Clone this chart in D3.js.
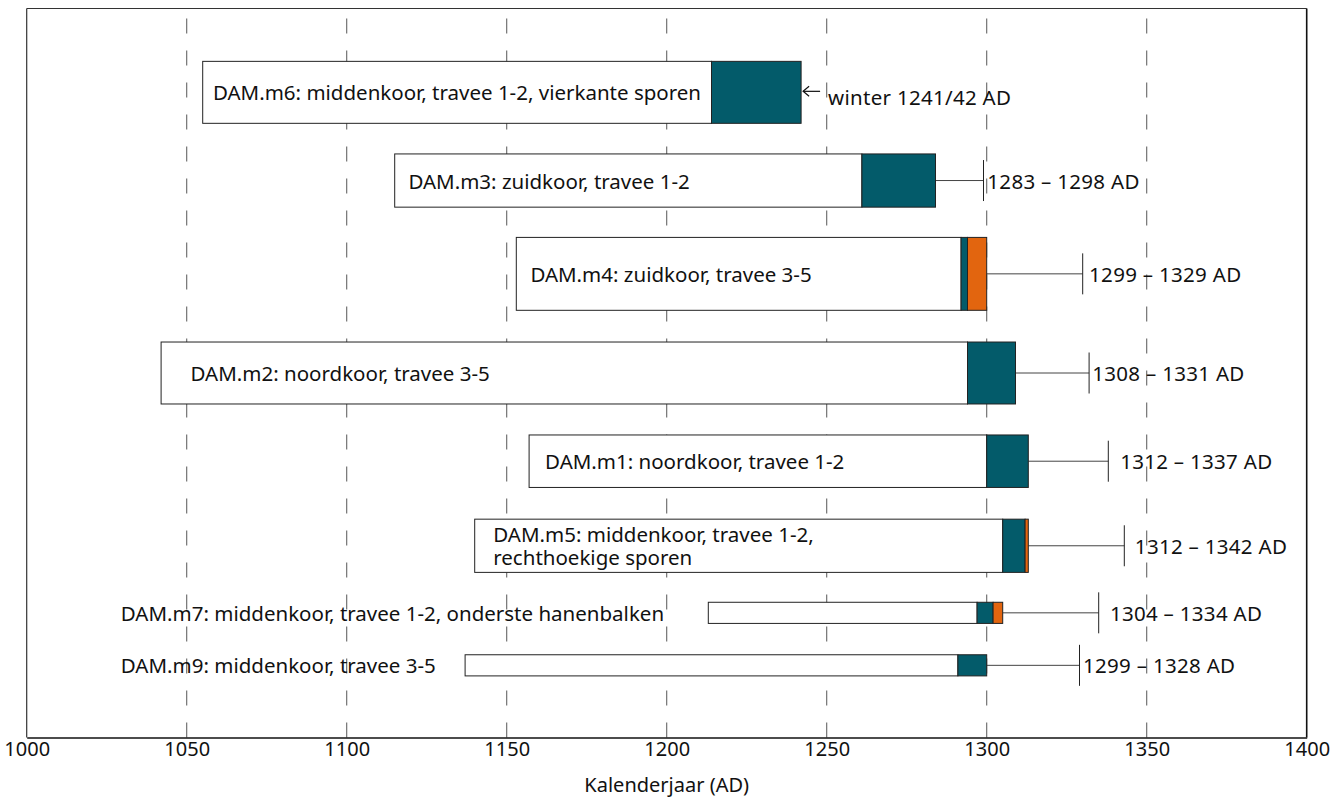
<!DOCTYPE html>
<html>
<head>
<meta charset="utf-8">
<script src="https://cdn.jsdelivr.net/npm/d3@7"></script>
<style>
  html, body { margin: 0; padding: 0; background: #fff; }
  svg { display: block; }
  text { font-family: "Noto Sans", Roboto, sans-serif; fill: #111; }
</style>
</head>
<body>
<svg id="chart" width="1337" height="799"></svg>
<script>
// ---- data ----
const labels = [
  "DAM.m6: middenkoor, travee 1-2, vierkante sporen",
  "DAM.m3: zuidkoor, travee 1-2",
  "DAM.m4: zuidkoor, travee 3-5",
  "DAM.m2: noordkoor, travee 3-5",
  "DAM.m1: noordkoor, travee 1-2",
  "DAM.m5: middenkoor, travee 1-2,\nrechthoekige sporen",
  "DAM.m7: middenkoor, travee 1-2, onderste hanenbalken",
  "DAM.m9: middenkoor, travee 3-5"
];
const firstRing   = [1055, 1115, 1153, 1042, 1157, 1140, 1213, 1137];
const heartEnd    = [1214, 1261, 1292, 1294, 1300, 1305, 1297, 1291];
const sapEnd      = [1242, 1284, 1294, 1309, 1313, 1312, 1302, 1300];
const barkEnd     = [null, null, 1300, null, null, 1313, 1305, null];
const upperBound  = [null, 1299, 1330, 1332, 1338, 1343, 1335, 1329];
const dateLabels  = ["winter 1241/42 AD", "1283 – 1298 AD", "1299 – 1329 AD", "1308 – 1331 AD",
                     "1312 – 1337 AD", "1312 – 1342 AD", "1304 – 1334 AD", "1299 – 1328 AD"];
const dateLabelX  = [1250.4, 1300.2, 1332.0, 1333.0, 1341.7, 1346.3, 1338.5, 1330.1];
const nameLabelX  = [1058.2, 1119.3, 1157.4, 1051.2, 1162.0, 1145.8, 1029.4, 1029.4];
const rowCenter   = [88.5, 76.4, 63.6, 50.0, 37.9, 26.3, 17.1, 9.9];
const rowHeight   = [8.5, 7.3, 10.0, 8.5, 7.2, 7.3, 2.9, 2.9];
const xTicks      = [1000, 1050, 1100, 1150, 1200, 1250, 1300, 1350, 1400];
const xTitle      = "Kalenderjaar (AD)";

const TEAL = "#035b6a", ORANGE = "#e2650f";

const svg = d3.select("#chart");
const m = {left: 26.7, right: 1337 - 1306.7, top: 8.5, bottom: 799 - 737.5};
const W = 1337, H = 799;
const x = d3.scaleLinear().domain([1000, 1400]).range([m.left, W - m.right]);
const y = d3.scaleLinear().domain([0, 100]).range([H - m.bottom, m.top]);

// grid lines
svg.append("g").selectAll("line").data(xTicks.slice(1, -1)).join("line")
  .attr("x1", d => x(d)).attr("x2", d => x(d))
  .attr("y1", y(0)).attr("y2", y(100))
  .attr("stroke", "#666").attr("stroke-width", 1.1)
  .attr("stroke-dasharray", "15,17");

const rows = labels.map((l, i) => ({
  label: l, a: firstRing[i], h: heartEnd[i], s: sapEnd[i], b: barkEnd[i], u: upperBound[i],
  dl: dateLabels[i], dlx: dateLabelX[i], nlx: nameLabelX[i], c: rowCenter[i], hh: rowHeight[i]
}));

const g = svg.append("g");
rows.forEach(r => {
  const yt = y(r.c + r.hh / 2), yb = y(r.c - r.hh / 2), yc = y(r.c);
  const end = r.b != null ? r.b : r.s;
  // whisker
  if (r.u != null) {
    g.append("line").attr("x1", x(end)).attr("x2", x(r.u)).attr("y1", yc).attr("y2", yc)
      .attr("stroke", "#444").attr("stroke-width", 1);
    g.append("line").attr("x1", x(r.u)).attr("x2", x(r.u)).attr("y1", yc - 20.5).attr("y2", yc + 20.5)
      .attr("stroke", "#222").attr("stroke-width", 1);
  }
  g.append("rect").attr("x", x(r.a)).attr("y", yt).attr("width", x(r.h) - x(r.a)).attr("height", yb - yt)
    .attr("fill", "#fff").attr("stroke", "#222").attr("stroke-width", 1);
  g.append("rect").attr("x", x(r.h)).attr("y", yt).attr("width", x(r.s) - x(r.h)).attr("height", yb - yt)
    .attr("fill", TEAL).attr("stroke", "#222").attr("stroke-width", 1);
  if (r.b != null) {
    g.append("rect").attr("x", x(r.s)).attr("y", yt).attr("width", x(r.b) - x(r.s)).attr("height", yb - yt)
      .attr("fill", ORANGE).attr("stroke", "#222").attr("stroke-width", 1);
  }
  // name label (one text element, multi-line via tspans)
  const lines = r.label.split("\n");
  const lh = 23;
  const t = g.append("text").attr("font-size", 20.5).attr("dominant-baseline", "central");
  lines.forEach((ln, k) => {
    t.append("tspan").attr("x", x(r.nlx)).attr("y", yc + (k - (lines.length - 1) / 2) * lh)
      .attr("dominant-baseline", "central").text(ln);
  });
  // date label
  g.append("text").attr("x", x(r.dlx)).attr("y", r.u == null ? yc + 5 : yc)
    .attr("dominant-baseline", "central").attr("font-size", 20.5)
    .attr("letter-spacing", 0.3).text(r.dl);
  if (r.u == null) {
    // arrow pointing to bar end
    const ax0 = x(end) + 2, ax1 = x(end) + 19, ay = yc - 1;
    g.append("line").attr("x1", ax0).attr("x2", ax1).attr("y1", ay).attr("y2", ay)
      .attr("stroke", "#111").attr("stroke-width", 1.2);
    g.append("path").attr("d", `M${ax0 + 6},${ay - 5} L${ax0},${ay} L${ax0 + 6},${ay + 5}`)
      .attr("fill", "none").attr("stroke", "#111").attr("stroke-width", 1.2);
  }
});

// frame
svg.append("line").attr("x1", x(1000)).attr("x2", x(1400)).attr("y1", y(100)).attr("y2", y(100))
  .attr("stroke", "#333").attr("stroke-width", 1.2);
svg.append("line").attr("x1", x(1000)).attr("x2", x(1000)).attr("y1", y(0)).attr("y2", y(100))
  .attr("stroke", "#333").attr("stroke-width", 1.2);
svg.append("line").attr("x1", x(1400)).attr("x2", x(1400)).attr("y1", y(0)).attr("y2", y(100))
  .attr("stroke", "#111").attr("stroke-width", 1.6);

// x axis
const ax = svg.append("g").attr("transform", `translate(0,${y(0)})`)
  .call(d3.axisBottom(x).tickValues(xTicks).tickFormat(d3.format("d")).tickSize(0).tickPadding(4));
ax.select(".domain").attr("stroke", "#111").attr("stroke-width", 1.6);
ax.selectAll("text").attr("font-size", 20).attr("font-family", "'Noto Sans', sans-serif").attr("fill", "#111");

svg.append("text").attr("x", (x(1000) + x(1400)) / 2).attr("y", 784)
  .attr("text-anchor", "middle").attr("dominant-baseline", "central").attr("font-size", 20).text(xTitle);
</script>
</body>
</html>
